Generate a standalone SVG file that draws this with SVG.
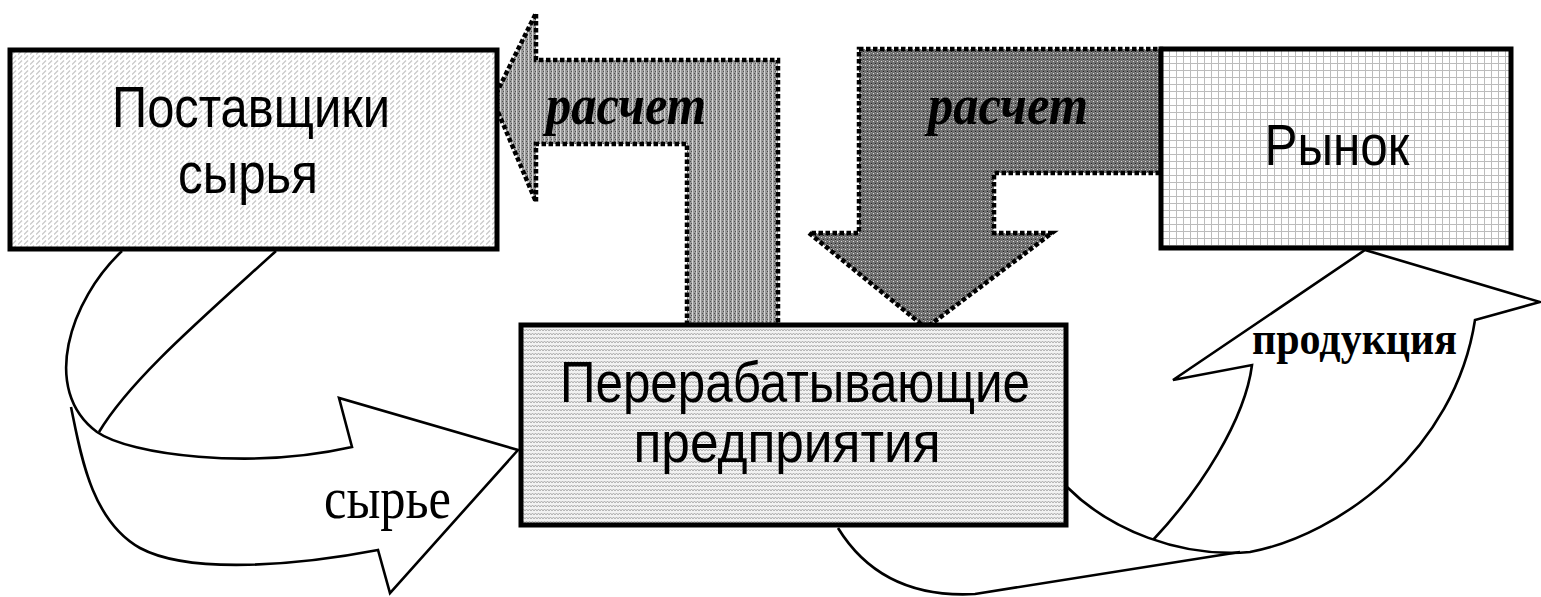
<svg xmlns="http://www.w3.org/2000/svg" width="1541" height="597" viewBox="0 0 1541 597">
<defs>
<pattern id="diag" width="6" height="5" patternUnits="userSpaceOnUse"><rect width="6" height="5" fill="#ffffff"/><path d="M0,4.5 L4,0.5" stroke="#c6c6c6" stroke-width="1.2"/></pattern>
<pattern id="grid" width="7" height="7" patternUnits="userSpaceOnUse"><rect width="7" height="7" fill="#ffffff"/><path d="M0,0.5H7M0.5,0V7" stroke="#bcbcbc" stroke-width="1"/></pattern>
<pattern id="zig" width="6" height="4" patternUnits="userSpaceOnUse"><rect width="6" height="4" fill="#f2f2f2"/><path d="M0,3 L1.5,1 L3,3 L4.5,1 L6,3" stroke="#a8a8a8" stroke-width="0.9" fill="none"/></pattern>
<pattern id="pl" width="4" height="4" patternUnits="userSpaceOnUse"><rect width="4" height="4" fill="#9a9a9a"/><rect x="0" y="0" width="1" height="4" fill="#d4d4d4"/><rect x="2" y="1" width="1" height="1" fill="#505050"/><rect x="3" y="3" width="1" height="1" fill="#505050"/></pattern>
<pattern id="pr" width="4" height="4" patternUnits="userSpaceOnUse"><rect width="4" height="4" fill="#707070"/><rect x="1" y="1" width="1" height="1" fill="#e0e0e0"/><rect x="3" y="3" width="1" height="1" fill="#202020"/><rect x="3" y="0" width="1" height="1" fill="#a0a0a0"/></pattern>
<style>
.box{stroke:#000;stroke-width:5;}
.flow{fill:none;stroke:#000;stroke-width:2.6;stroke-linejoin:miter;}
.pay{stroke:#000;stroke-width:4.5;stroke-dasharray:4.5 2.5;stroke-linejoin:miter;}
.lbl{font-family:"Liberation Sans",Arial,sans-serif;font-size:58px;fill:#000;text-anchor:middle;}
.pay-t{font-family:"Liberation Serif","Times New Roman",serif;font-style:italic;font-weight:bold;font-size:58px;fill:#000;}
.raw-t{font-family:"Liberation Serif","Times New Roman",serif;font-size:60px;fill:#000;}
.prod-t{font-family:"Liberation Serif","Times New Roman",serif;font-weight:bold;font-size:46px;fill:#000;}
</style>
</defs>
<rect width="1541" height="597" fill="#ffffff"/>

<g id="connectors">
  <g id="raw-flow">
    <path class="flow" d="M122,251 C70,300 40,390 97,432 C130,455 250,470 352,447 L339,398 L518,450 L390,593 L378,550 C300,565 190,575 140,548 C90,520 80,450 71,407"/>
    <path class="flow" d="M276,251 C200,320 130,380 99,432"/>
    <text class="raw-t" x="324" y="518" textLength="127" lengthAdjust="spacingAndGlyphs">сырье</text>
  </g>
  <g id="product-flow">
    <path class="flow" d="M838,528 C870,580 920,597 975,594 L1240,552"/>
    <path class="flow" d="M1067,487 C1110,530 1180,558 1250,552 C1340,535 1455,450 1475,320 L1540,302 L1365,250 L1173,380 L1252,365 C1245,420 1200,490 1153,540"/>
    <text class="prod-t" x="1252" y="354" textLength="205" lengthAdjust="spacingAndGlyphs">продукция</text>
  </g>
  <g id="payment-left">
    <polygon class="pay" fill="url(#pl)" points="493,100 536,13 536,60 778,60 778,325 687,325 687,144 536,144 536,202"/>
    <text class="pay-t" x="546" y="124" textLength="160" lengthAdjust="spacingAndGlyphs">расчет</text>
  </g>
  <g id="payment-right">
    <polygon class="pay" fill="url(#pr)" points="859,49 1161,49 1161,173 994,173 994,233 1052,233 926,328 809,233 859,233"/>
    <text class="pay-t" x="928" y="124" textLength="160" lengthAdjust="spacingAndGlyphs">расчет</text>
  </g>
</g>

<g id="suppliers">
  <rect class="box" x="10" y="50" width="487" height="199" fill="url(#diag)"/>
  <text class="lbl" x="251" y="127" textLength="278" lengthAdjust="spacingAndGlyphs">Поставщики</text>
  <text class="lbl" x="248" y="193" textLength="140" lengthAdjust="spacingAndGlyphs">сырья</text>
</g>

<g id="market">
  <rect class="box" x="1161" y="49" width="350" height="199" fill="url(#grid)"/>
  <text class="lbl" x="1337" y="165" textLength="145" lengthAdjust="spacingAndGlyphs">Рынок</text>
</g>

<g id="processors">
  <rect class="box" x="521" y="325" width="545" height="200" fill="url(#zig)"/>
  <text class="lbl" x="795" y="402" textLength="470" lengthAdjust="spacingAndGlyphs">Перерабатывающие</text>
  <text class="lbl" x="787" y="462" textLength="307" lengthAdjust="spacingAndGlyphs">предприятия</text>
</g>
</svg>
